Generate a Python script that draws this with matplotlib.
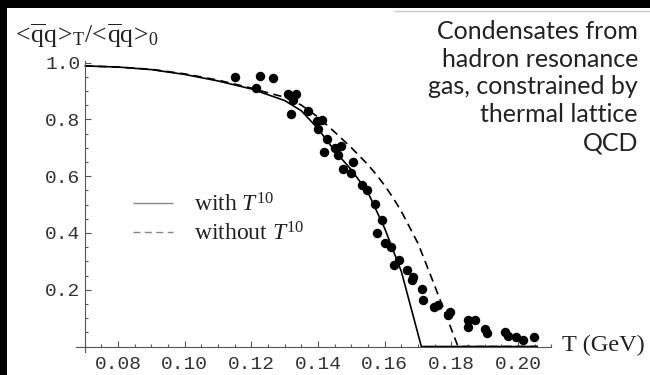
import matplotlib
matplotlib.use("Agg")
import matplotlib.pyplot as plt
from matplotlib.patches import Rectangle
from matplotlib.lines import Line2D
from matplotlib.ticker import MultipleLocator, FormatStrFormatter

plt.rcParams['mathtext.fontset'] = 'custom'
plt.rcParams['mathtext.rm'] = 'Liberation Serif'
plt.rcParams['mathtext.it'] = 'Liberation Serif:italic'

# condensate ratio with the T^10 term
solid_T = [0.07, 0.08, 0.09, 0.10, 0.11, 0.12, 0.13, 0.135, 0.14, 0.145,
           0.15, 0.155, 0.16, 0.165, 0.171, 0.206]
solid_y = [0.988, 0.984, 0.975, 0.958, 0.935, 0.907, 0.866, 0.83, 0.767, 0.689,
           0.622, 0.542, 0.416, 0.264, 0.0, 0.0]

# ... and without it
dashed_T = [0.07, 0.08, 0.09, 0.10, 0.11, 0.12, 0.125, 0.13, 0.135, 0.14, 0.145,
            0.15, 0.155, 0.1575, 0.16, 0.1625, 0.165, 0.17, 0.175, 0.182, 0.206]
dashed_y = [0.988, 0.984, 0.976, 0.96, 0.938, 0.91, 0.893, 0.878, 0.85, 0.808, 0.755,
            0.700, 0.640, 0.605, 0.567, 0.524, 0.476, 0.363, 0.214, 0.0, 0.0]

# lattice points
lat_T = [0.1151, 0.1226, 0.1265, 0.1214, 0.1310, 0.1334, 0.1325, 0.1319, 0.1370, 0.1397,
         0.1412, 0.1400, 0.1427, 0.1418, 0.1451, 0.1469, 0.1460, 0.1505, 0.1475, 0.1499,
         0.1532, 0.1547, 0.1571, 0.1592, 0.1577, 0.1601, 0.1619, 0.1643, 0.1628, 0.1667,
         0.1685, 0.1682, 0.1712, 0.1715, 0.1748, 0.1760, 0.1796, 0.1790, 0.1850, 0.1871,
         0.1850, 0.1901, 0.1907, 0.1961, 0.1970, 0.1994, 0.2015, 0.2048]
lat_y = [0.949, 0.952, 0.945, 0.910, 0.889, 0.889, 0.868, 0.819, 0.829, 0.794,
         0.797, 0.766, 0.731, 0.685, 0.699, 0.706, 0.674, 0.650, 0.625, 0.611,
         0.569, 0.551, 0.502, 0.445, 0.400, 0.364, 0.350, 0.305, 0.287, 0.269,
         0.245, 0.234, 0.202, 0.164, 0.139, 0.146, 0.121, 0.110, 0.093, 0.093,
         0.068, 0.061, 0.047, 0.051, 0.037, 0.034, 0.023, 0.034]

x_ticks = [0.08, 0.10, 0.12, 0.14, 0.16, 0.18, 0.20]
y_ticks = [0.2, 0.4, 0.6, 0.8, 1.0]

fig = plt.figure(figsize=(6.5, 3.75), dpi=100, facecolor='white')

# dark frame along top and left edges, thin rule at the top right
fig.patches.append(Rectangle((0, 1 - 8 / 375), 1, 8 / 375, transform=fig.transFigure,
                             facecolor='black', edgecolor='none', zorder=0))
fig.patches.append(Rectangle((0, 0), 7 / 650, 1, transform=fig.transFigure,
                             facecolor='black', edgecolor='none', zorder=0))
fig.lines.append(Line2D([395 / 650, 1], [1 - 10.5 / 375, 1 - 10.5 / 375],
                        transform=fig.transFigure, color='#c8c8c8', lw=1))

ax = fig.add_axes([0.1165, 0.0608, 0.7317, 0.7763])
ax.set_facecolor('none')
ax.set_xlim(0.0673, 0.21)
ax.set_ylim(-0.02, 1.005)

for s in ['top', 'right']:
    ax.spines[s].set_visible(False)
ax.spines['left'].set_position(('data', 0.07))
ax.spines['bottom'].set_position(('data', 0.0))
for s in ['left', 'bottom']:
    ax.spines[s].set_color('#555555')
    ax.spines[s].set_linewidth(0.8)

ax.plot(solid_T, solid_y, color='black', lw=1.2, solid_capstyle='butt',
        label=r'with $T^{10}$', clip_on=False)
ax.plot(dashed_T, dashed_y, color='black', lw=1.2, dashes=(5, 3.2),
        label=r'without $T^{10}$', clip_on=False)
ax.plot(lat_T, lat_y, 'o', color='black', ms=6.8, mew=0)

ax.set_xticks(x_ticks)
ax.set_yticks(y_ticks)
ax.xaxis.set_minor_locator(MultipleLocator(0.005))
ax.yaxis.set_minor_locator(MultipleLocator(0.05))
ax.xaxis.set_major_formatter(FormatStrFormatter('%.2f'))
ax.yaxis.set_major_formatter(FormatStrFormatter('%.1f'))
ax.tick_params(which='both', direction='in', color='#555555', width=0.8)
ax.tick_params(which='major', length=4.5)
ax.tick_params(which='minor', length=2.5)
ax.tick_params(axis='x', pad=7)
ax.tick_params(axis='y', pad=3)
for lbl in ax.get_xticklabels() + ax.get_yticklabels():
    lbl.set_fontfamily('Liberation Mono')
    lbl.set_fontsize(14)
    lbl.set_color('#333333')

leg = ax.legend(loc='upper left', bbox_to_anchor=(133 / 650, 1 - 193 / 375),
                bbox_transform=fig.transFigure, frameon=False, borderpad=0,
                borderaxespad=0, handlelength=1.7, handletextpad=0.9,
                labelspacing=0.25, prop={'family': 'Liberation Serif', 'size': 17})
for ln in leg.get_lines():
    ln.set_color('#888888')
    ln.set_linewidth(1.0)
for t in leg.get_texts():
    t.set_color('#222222')

qq = r'{<\!\overline{\mathrm{q}}\mathrm{q}\!>\!}'
fig.text(12 / 650, 1 - 36 / 375,
         '$' + qq + r'_\mathrm{T}/\!' + qq + '_0$',
         fontsize=18.5, color='#222222', ha='left', va='center')
fig.text(562 / 650, 1 - 345 / 375, 'T (GeV)', family='Liberation Serif',
         fontsize=17.5, color='#222222', ha='left', va='center')

fig.text(638 / 650, 1 - 20 / 375,
         'Condensates from\nhadron resonance\ngas, constrained by\nthermal lattice\nQCD',
         family='Lato', fontsize=18, color='#222222', ha='right', va='top',
         linespacing=1.25)

fig.savefig('out.png', dpi=100, facecolor='white')
